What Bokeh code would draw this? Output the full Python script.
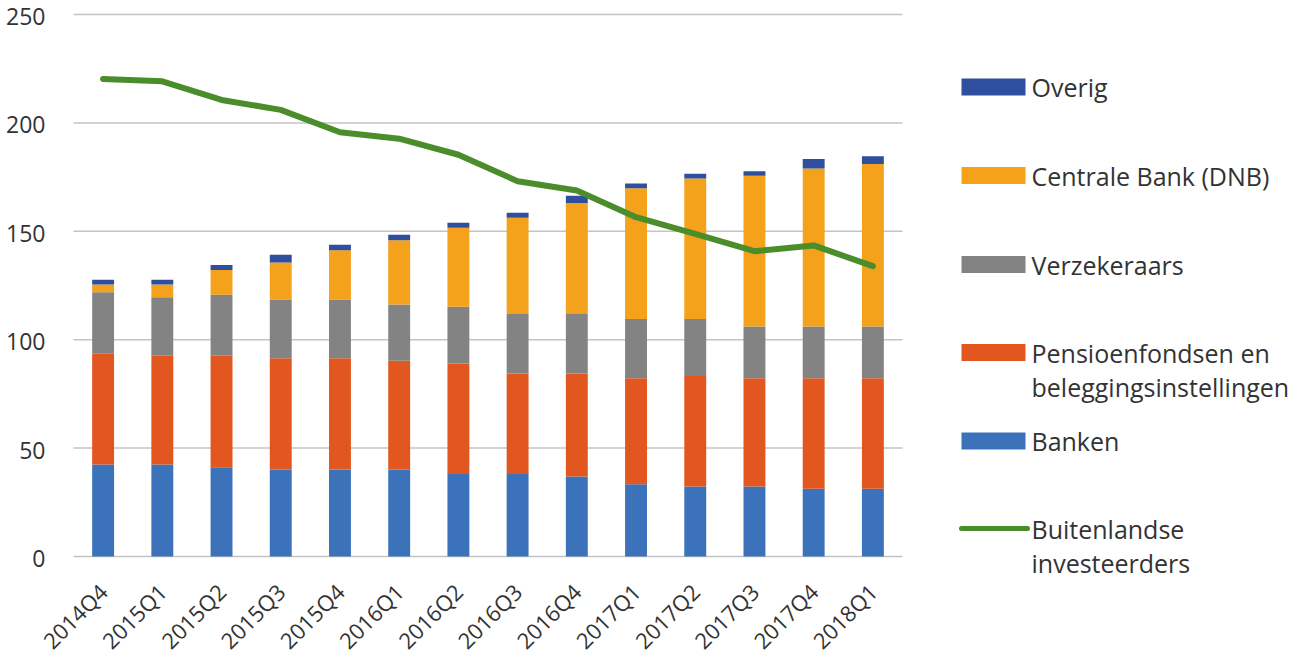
from math import pi
from bokeh.plotting import figure
from bokeh.models import Range1d, ColumnDataSource
from bokeh.core.properties import value
from bokeh.embed import file_html
from bokeh.resources import INLINE

quarters = ["2014Q4", "2015Q1", "2015Q2", "2015Q3", "2015Q4", "2016Q1", "2016Q2",
            "2016Q3", "2016Q4", "2017Q1", "2017Q2", "2017Q3", "2017Q4", "2018Q1"]
banken = [42.4, 42.4, 41.2, 40.1, 40.1, 40.1, 38.0, 38.0, 36.9, 33.3, 32.3, 32.3, 31.2, 31.2]
pensioen = [51.1, 50.2, 51.4, 51.4, 51.4, 50.2, 51.0, 46.4, 47.5, 48.9, 51.0, 49.9, 51.0, 51.0]
verzekeraars = [28.4, 27.0, 28.1, 27.0, 27.0, 25.9, 26.2, 27.4, 27.4, 27.3, 26.2, 23.9, 23.9, 23.9]
dnb = [3.6, 5.9, 11.5, 17.1, 22.8, 29.7, 36.4, 44.4, 51.2, 60.4, 64.9, 69.5, 72.9, 75.0]
overig = [2.1, 2.1, 2.3, 3.6, 2.5, 2.5, 2.3, 2.3, 3.4, 2.1, 2.1, 2.1, 4.4, 3.5]
buitenland = [220.3, 219.2, 210.6, 206.0, 195.7, 192.7, 185.3, 173.1, 168.8, 156.5, 148.8, 140.8, 143.5, 133.9]
y_ticks = [0, 50, 100, 150, 200, 250]
y_tick_labels = ["0", "50", "100", "150", "200", "250"]

stack_keys = ["banken", "pensioen", "verzekeraars", "dnb", "overig"]
stack_colors = ["#3b72b9", "#e2561f", "#838383", "#f4a11b", "#2f4e9e"]
line_color = "#4c8d2b"

legend_labels = [["Overig"], ["Centrale Bank (DNB)"], ["Verzekeraars"],
                 ["Pensioenfondsen en", "beleggingsinstellingen"], ["Banken"],
                 ["Buitenlandse", "investeerders"]]
legend_colors = ["#2f4e9e", "#f4a11b", "#838383", "#e2561f", "#3b72b9", line_color]

FONT = "Open Sans"
TXT = "#333333"

# layout (pixels, page coordinates; the figure is placed at the page's top-left)
W, H = 1291, 655
PLOT_LEFT, PLOT_RIGHT = 73, 902   # extent of the category area
ZERO_Y, TOP_Y = 556, 14           # pixel rows of 0 and 250
cat_w = (PLOT_RIGHT - PLOT_LEFT) / len(quarters)
ppu = (ZERO_Y - TOP_Y) / 250.0

xs = list(range(len(quarters)))
src = ColumnDataSource(dict(x=xs, banken=banken, pensioen=pensioen,
                            verzekeraars=verzekeraars, dnb=dnb, overig=overig,
                            buitenland=buitenland))

x0 = -0.5 - PLOT_LEFT / cat_w
p = figure(x_range=Range1d(x0, x0 + W / cat_w),
           y_range=Range1d((ZERO_Y - H) / ppu, ZERO_Y / ppu),
           width=W, height=H, output_backend="svg", toolbar_location=None,
           x_axis_location=None, y_axis_location=None, min_border=0)
p.styles = {"margin-left": "0px", "margin-top": "0px"}
p.outline_line_color = None
p.grid.grid_line_color = None
p.extra_x_ranges = {"px": Range1d(0, W)}
p.extra_y_ranges = {"px": Range1d(H, 0)}

# horizontal gridlines over the category area
p.segment(x0=[-0.5] * len(y_ticks), x1=[len(quarters) - 0.5] * len(y_ticks),
          y0=y_ticks, y1=y_ticks, line_color="#c4c4c4", line_width=1.5)

p.vbar_stack(stack_keys, x="x", width=0.37, source=src, color=stack_colors, line_color=None)
p.line(x="x", y="buitenland", source=src, line_color=line_color, line_width=6,
       line_cap="round", line_join="round")

# value labels on the left
p.text(x=[-0.5 - 28 / cat_w] * len(y_ticks), y=y_ticks, text=y_tick_labels, y_offset=2,
       text_font=value(FONT), text_font_size="23px", text_color=TXT,
       text_align="right", text_baseline="middle")

# category labels, rotated 45 degrees, ending just under each bar
p.text(x=xs, y=[-31 / ppu] * len(xs), text=quarters, angle=pi / 4,
       text_font=value(FONT), text_font_size="22px", text_color=TXT,
       text_align="right", text_baseline="middle")

# legend, drawn in pixel coordinates at the right
item_y = [86.5, 175, 264, 352, 440.5, 528]
sw_x0, sw_x1, sw_h, tx, line_gap = 961, 1025, 17, 1031, 34.5
for yc, labels, col in zip(item_y, legend_labels, legend_colors):
    if col == line_color:
        p.line([sw_x0, sw_x1 + 2], [yc, yc], line_color=col, line_width=5,
               line_cap="round", x_range_name="px", y_range_name="px")
    else:
        p.quad(left=[sw_x0], right=[sw_x1], top=[yc - sw_h / 2], bottom=[yc + sw_h / 2],
               fill_color=col, line_color=None, x_range_name="px", y_range_name="px")
    p.text([tx] * len(labels), [yc + k * line_gap for k in range(len(labels))], text=labels,
           text_font=value(FONT), text_font_size="25px", text_color=TXT,
           text_baseline="middle", text_align="left", x_range_name="px", y_range_name="px")

open("out.html", "w").write(file_html(p, INLINE))
